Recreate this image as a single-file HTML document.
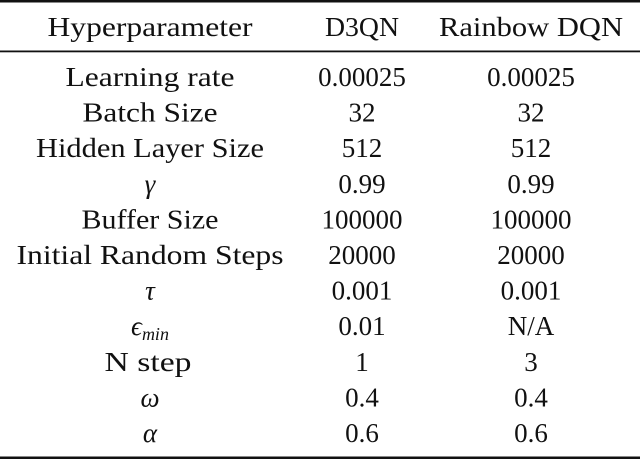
<!DOCTYPE html>
<html><head><style>html,body{margin:0;padding:0;background:#fff}svg{display:block}</style></head>
<body>
<svg width="640" height="461" xmlns="http://www.w3.org/2000/svg" font-family="Liberation Serif, serif" font-size="27" fill="#111" text-anchor="middle">
<rect x="0" y="0" width="640" height="2.5" fill="#111"/>
<rect x="0" y="50.5" width="640" height="1.8" fill="#111"/>
<rect x="0" y="456.5" width="640" height="2.5" fill="#111"/>
<text x="150" y="36" textLength="205" lengthAdjust="spacingAndGlyphs">Hyperparameter</text><text x="362" y="36" textLength="74" lengthAdjust="spacingAndGlyphs">D3QN</text><text x="531" y="36" textLength="184" lengthAdjust="spacingAndGlyphs">Rainbow DQN</text>
<text x="150" y="86" textLength="169" lengthAdjust="spacingAndGlyphs">Learning rate</text><text x="362" y="86">0.00025</text><text x="531" y="86">0.00025</text>
<text x="150" y="121.6" textLength="135" lengthAdjust="spacingAndGlyphs">Batch Size</text><text x="362" y="121.6">32</text><text x="531" y="121.6">32</text>
<text x="150" y="157.2" textLength="228" lengthAdjust="spacingAndGlyphs">Hidden Layer Size</text><text x="362" y="157.2">512</text><text x="531" y="157.2">512</text>
<text x="150" y="192.8" font-style="italic">γ</text><text x="362" y="192.8">0.99</text><text x="531" y="192.8">0.99</text>
<text x="150" y="228.4" textLength="137" lengthAdjust="spacingAndGlyphs">Buffer Size</text><text x="362" y="228.4">100000</text><text x="531" y="228.4">100000</text>
<text x="150" y="264" textLength="267" lengthAdjust="spacingAndGlyphs">Initial Random Steps</text><text x="362" y="264">20000</text><text x="531" y="264">20000</text>
<text x="150" y="299.6" font-style="italic">τ</text><text x="362" y="299.6">0.001</text><text x="531" y="299.6">0.001</text>
<text x="150" y="335.2" font-style="italic">ϵ<tspan font-size="18" dy="5">min</tspan></text><text x="362" y="335.2">0.01</text><text x="531" y="335.2">N/A</text>
<text x="148" y="370.8" textLength="87" lengthAdjust="spacingAndGlyphs">N step</text><text x="362" y="370.8">1</text><text x="531" y="370.8">3</text>
<text x="150" y="406.4" font-style="italic">ω</text><text x="362" y="406.4">0.4</text><text x="531" y="406.4">0.4</text>
<text x="150" y="442" font-style="italic">α</text><text x="362" y="442">0.6</text><text x="531" y="442">0.6</text>
</svg>
</body></html>
